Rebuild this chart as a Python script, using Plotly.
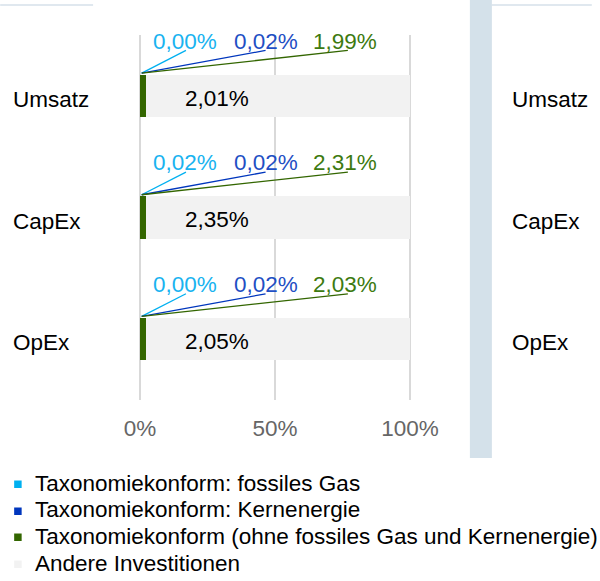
import plotly.graph_objects as go

# ---- data ----
categories = ["Umsatz", "CapEx", "OpEx"]
gas = [0.00, 0.02, 0.00]
nuclear = [0.02, 0.02, 0.02]
aligned = [1.99, 2.31, 2.03]
total = [2.01, 2.35, 2.05]
other = [round(100 - t, 2) for t in total]
series_names = [
    "Taxonomiekonform: fossiles Gas",
    "Taxonomiekonform: Kernenergie",
    "Taxonomiekonform (ohne fossiles Gas und Kernenergie)",
    "Andere Investitionen",
]
x_ticks = [0, 50, 100]
x_tick_labels = ["0%", "50%", "100%"]

# ---- style ----
FONT = "Liberation Sans, Arial, sans-serif"
FS = 22.5
C_GAS = "#00b0f0"
C_NUC = "#0036bd"
C_ALI = "#336600"
C_OTH = "#f2f2f2"
T_GAS = "#19b3f0"
T_NUC = "#1f4fc4"
T_ALI = "#3d7a10"
BAND = "#d4e1ea"

W, H = 600, 581
X0PX, X100PX = 140, 410          # pixel positions of 0% and 100%
PAD = 0.4                        # small range padding so edge gridlines show
PPU = (X100PX - X0PX) / 100.0
L = X0PX - PAD * PPU
R = X100PX + PAD * PPU
T, B = 35, 400


def px_x(px):
    return (px - L) / (R - L)


def px_y(py):
    return (B - py) / (B - T)


def fmt(v):
    return f"{v:.2f}".replace(".", ",") + "%"


ypos = list(range(len(categories)))
bw = 0.35

fig = go.Figure()
for vals, col, name in zip([gas, nuclear, aligned, other], [C_GAS, C_NUC, C_ALI, C_OTH], series_names):
    fig.add_trace(go.Bar(
        y=ypos, x=vals, name=name, orientation="h", width=bw,
        marker=dict(color=col, line=dict(width=0)), showlegend=False,
    ))

annotations = []
shapes = []

label_x = [16.7, 46.5, 76.0]
line_end_x = [17.0, 46.5, 77.0]
label_series = [(gas, T_GAS, C_GAS), (nuclear, T_NUC, C_NUC), (aligned, T_ALI, C_ALI)]
for i, yc in enumerate(ypos):
    for (vals, tcol, lcol), lx, ex in zip(label_series, label_x, line_end_x):
        annotations.append(dict(
            x=lx, y=yc - 0.45, xref="x", yref="y", text=fmt(vals[i]), showarrow=False,
            font=dict(family=FONT, size=FS, color=tcol), xanchor="center", yanchor="middle",
        ))
        shapes.append(dict(
            type="line", xref="x", yref="y", x0=0.6, y0=yc - bw / 2 - 0.012, x1=ex, y1=yc - 0.373,
            line=dict(color=lcol, width=1.3), layer="above",
        ))
    # total label inside grey bar
    annotations.append(dict(
        x=28.5, y=yc + 0.02, xref="x", yref="y", text=fmt(total[i]), showarrow=False,
        font=dict(family=FONT, size=FS, color="#000000"), xanchor="center", yanchor="middle",
    ))
    # category labels (left panel and cut-off right panel)
    for xp in [11, 510]:
        annotations.append(dict(
            x=px_x(xp), y=yc + 0.03, xref="paper", yref="y", text=categories[i], showarrow=False,
            font=dict(family=FONT, size=FS, color="#000000"), xanchor="left", yanchor="middle",
        ))

# decorative band and top rules
shapes.append(dict(type="rect", xref="paper", yref="paper", x0=px_x(470), x1=px_x(492),
                   y0=px_y(458), y1=px_y(0), fillcolor=BAND, line=dict(width=0), layer="below"))
for x0, x1 in [(0, 93), (492, 592)]:
    shapes.append(dict(type="line", xref="paper", yref="paper", x0=px_x(x0), x1=px_x(x1),
                       y0=px_y(5), y1=px_y(5), line=dict(color="#d6e1ea", width=1.5)))

# custom legend
leg_y = [483, 510, 536, 563]
for name, col, ly in zip(series_names, [C_GAS, C_NUC, C_ALI, C_OTH], leg_y):
    shapes.append(dict(type="rect", xref="paper", yref="paper", x0=px_x(14), x1=px_x(21.5),
                       y0=px_y(ly + 5), y1=px_y(ly - 2.5), fillcolor=col, line=dict(width=0)))
    annotations.append(dict(
        x=px_x(33), y=px_y(ly), xref="paper", yref="paper", text=name, showarrow=False,
        font=dict(family=FONT, size=FS, color="#000000"), xanchor="left", yanchor="middle",
    ))

fig.update_layout(
    width=W, height=H,
    margin=dict(l=L, r=W - R, t=T, b=H - B, pad=0),
    barmode="stack", bargap=0,
    plot_bgcolor="white", paper_bgcolor="white",
    font=dict(family=FONT, size=FS, color="#000000"),
    xaxis=dict(range=[-PAD, 100 + PAD], tickvals=x_ticks, ticktext=x_tick_labels,
               showgrid=True, gridcolor="#d9d9d9", gridwidth=2, zeroline=False,
               showline=False, ticks="", tickfont=dict(family=FONT, size=FS, color="#666666"),
               ticklabelstandoff=12, fixedrange=True),
    yaxis=dict(range=[len(categories) - 0.5, -0.5], showticklabels=False, showgrid=False,
               zeroline=False, showline=False, ticks="", fixedrange=True),
    annotations=annotations, shapes=shapes, showlegend=False,
)

fig.write_html(
    "out.html",
    config={"displayModeBar": False},
    post_script="document.body.style.margin='0';document.body.style.overflow='hidden';",
)
